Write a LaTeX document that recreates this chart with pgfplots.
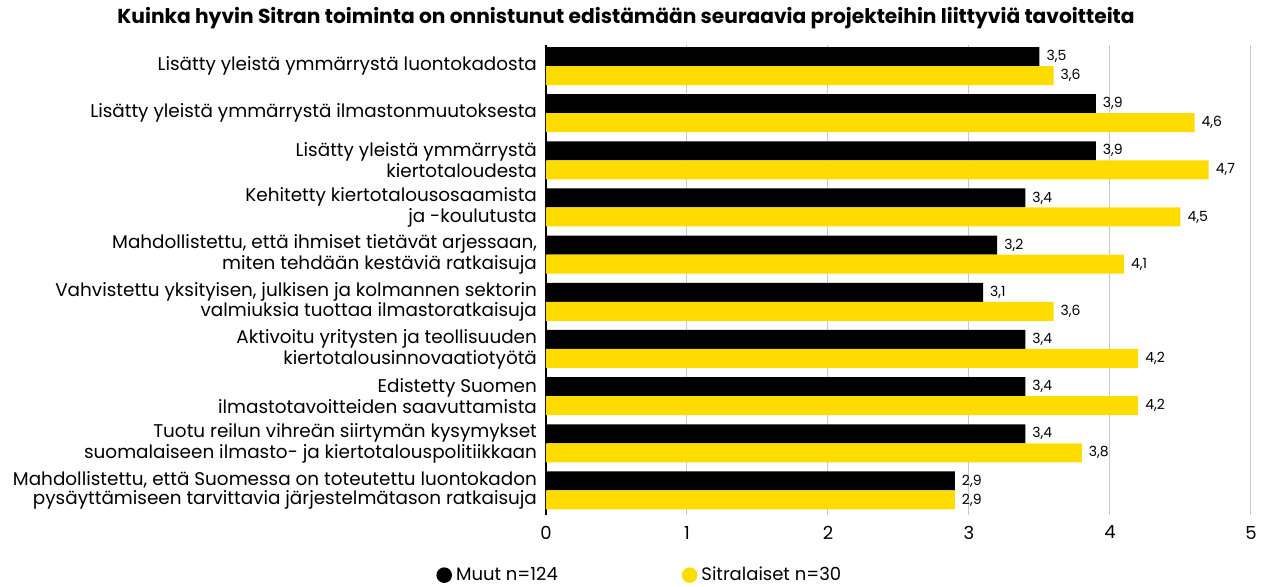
\documentclass[border=0pt]{standalone}
\usepackage{fontspec}
\setmainfont{Poppins}
\usepackage{pgfplots}
\pgfplotsset{compat=1.18}
\definecolor{sitrayellow}{HTML}{FFDC00}
\definecolor{gridgray}{HTML}{C8C8C8}

\begin{document}
\begin{tikzpicture}
% 1 px of the reference = 0.5pt
\useasboundingbox (-273pt,-36pt) rectangle (358.5pt,257.5pt);
\begin{axis}[
    xbar,
    scale only axis,
    width=352.5pt, height=235pt,
    xmin=0, xmax=5,
    ymin=-0.52, ymax=9.446,
    bar width=9.5pt,
    clip=false,
    axis y line*=left,
    axis x line*=bottom,
    x axis line style={draw=none},
    y axis line style={black, line width=0.6pt},
    major tick length=0pt,
    xmajorgrids,
    grid style={gridgray, line width=0.5pt},
    xtick={0,1,2,3,4,5},
    xticklabels={0,1,2,3,4,5},
    xticklabel style={font=\fontsize{9}{10}\selectfont, yshift=-2pt},
    ytick={0,...,9},
    yticklabels={
      {Mahdollistettu, että Suomessa on toteutettu luontokadon\\pysäyttämiseen tarvittavia järjestelmätason ratkaisuja},
      {Tuotu reilun vihreän siirtymän kysymykset\\suomalaiseen ilmasto- ja kiertotalouspolitiikkaan},
      {Edistetty Suomen\\ilmastotavoitteiden saavuttamista},
      {Aktivoitu yritysten ja teollisuuden\\kiertotalousinnovaatiotyötä},
      {Vahvistettu yksityisen, julkisen ja kolmannen sektorin\\valmiuksia tuottaa ilmastoratkaisuja},
      {Mahdollistettu, että ihmiset tietävät arjessaan,\\miten tehdään kestäviä ratkaisuja},
      {Kehitetty kiertotalousosaamista\\ja -koulutusta},
      {Lisätty yleistä ymmärrystä\\kiertotaloudesta},
      {Lisätty yleistä ymmärrystä ilmastonmuutoksesta},
      {Lisätty yleistä ymmärrystä luontokadosta}},
    yticklabel style={align=right, font=\fontsize{9.2}{9.3}\selectfont, xshift=-1pt},
    nodes near coords,
    every node near coord/.append style={font=\fontsize{7}{8}\selectfont, black,
      /pgf/number format/.cd, fixed, fixed zerofill, precision=1, use comma,
      assume math mode=true},
    legend columns=2,
    legend style={at={(rel axis cs:-0.1645,-0.128)}, anchor=west, draw=none,
      font=\fontsize{9}{10}\selectfont,
      /tikz/every even column/.append style={column sep=60pt}},
    legend image code/.code={\fill[#1] (0.18cm,0) circle (3.9pt);},
]
\addplot[fill=black, draw=none, bar shift=4.75pt] coordinates {
  (2.9,0) (3.4,1) (3.4,2) (3.4,3) (3.1,4) (3.2,5) (3.4,6) (3.9,7) (3.9,8) (3.5,9)};
\addplot[fill=sitrayellow, draw=none, bar shift=-4.75pt] coordinates {
  (2.9,0) (3.8,1) (4.2,2) (4.2,3) (3.6,4) (4.1,5) (4.5,6) (4.7,7) (4.6,8) (3.6,9)};
\legend{Muut n=124, Sitralaiset n=30}
\node[font=\bfseries\fontsize{10.1}{11}\selectfont] at (rel axis cs:0.1135,1.057)
  {Kuinka hyvin Sitran toiminta on onnistunut edistämään seuraavia projekteihin liittyviä tavoitteita};
\end{axis}
\end{tikzpicture}
\end{document}
